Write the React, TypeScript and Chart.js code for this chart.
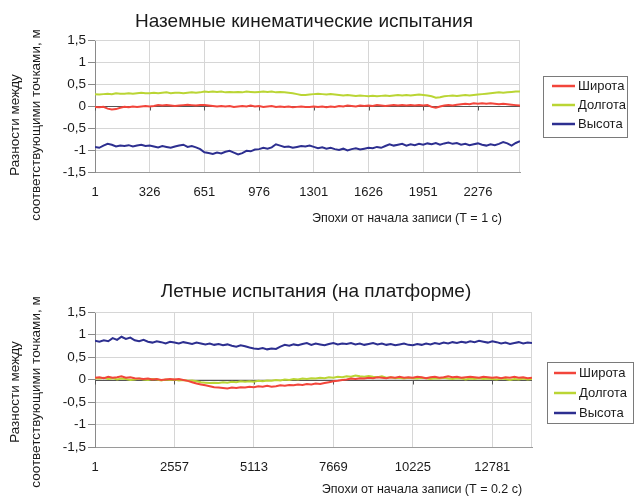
import React, { useEffect, useRef } from "react";
import { Chart, registerables } from "chart.js";

Chart.register(...registerables);

// ---------- data ----------
const SERIES_NAMES = ["Широта", "Долгота", "Высота"];
const SERIES_COLORS = ["#f2453b", "#bad534", "#2d2f90"];

const GROUND_TITLE = "Наземные кинематические испытания";
const FLIGHT_TITLE = "Летные испытания (на платформе)";
const Y_TITLE_LINES = ["Разности между", "соответствующими точками, м"];
const GROUND_X_TITLE = "Эпохи от начала записи (T = 1 с)";
const FLIGHT_X_TITLE = "Эпохи от начала записи (T = 0.2 с)";

const Y_TICKS = [-1.5, -1, -0.5, 0, 0.5, 1, 1.5];
const GROUND_X_TICKS = [1, 326, 651, 976, 1301, 1626, 1951, 2276];
const FLIGHT_X_TICKS = [1, 2557, 5113, 7669, 10225, 12781];

// sampling of the epochs (every GROUND_STEP-th / FLIGHT_STEP-th epoch, starting at 1)
const GROUND_STEP = 25;
const FLIGHT_STEP = 142;

const GROUND_LAT = [
  -0.02, -0.03, -0.02, -0.06, -0.08, -0.07, -0.04, -0.02, -0.03, -0.01, -0.02, -0.01, 0.0,
  -0.01, 0.0, 0.02, 0.01, 0.02, 0.01, 0.0, 0.01, 0.02, 0.03, 0.02, 0.01, 0.02,
  0.02, 0.01, 0.0, -0.01, 0.0, -0.01, 0.0, -0.02, -0.01, 0.0, -0.01, 0.01, -0.01,
  0.0, -0.02, -0.01, 0.0, -0.02, -0.01, -0.02, -0.01, -0.03, -0.02, -0.01, -0.02, -0.02,
  -0.01, -0.02, -0.01, -0.03, -0.01, -0.02, 0.0, -0.01, 0.01, 0.0, -0.01, 0.01, 0.0,
  0.01, 0.0, 0.02, 0.01, 0.0, 0.01, 0.02, 0.01, 0.02, 0.01, 0.02, 0.01, 0.02,
  0.01, 0.02, -0.02, -0.04, -0.01, 0.01, 0.02, 0.01, 0.03, 0.04, 0.05, 0.04, 0.06,
  0.05, 0.06, 0.05, 0.06, 0.05, 0.04, 0.05, 0.04, 0.03, 0.02, 0.01,
];
const GROUND_LON = [
  0.27, 0.26, 0.27, 0.28, 0.27, 0.29, 0.28, 0.28, 0.29, 0.28, 0.29, 0.3, 0.29,
  0.29, 0.3, 0.29, 0.3, 0.31, 0.29, 0.3, 0.3, 0.29, 0.3, 0.31, 0.3, 0.31,
  0.33, 0.32, 0.33, 0.32, 0.33, 0.31, 0.32, 0.31, 0.32, 0.31, 0.33, 0.32, 0.31,
  0.32, 0.33, 0.32, 0.33, 0.31, 0.32, 0.31, 0.3, 0.29, 0.27, 0.25, 0.25, 0.26,
  0.27, 0.28, 0.27, 0.26, 0.27, 0.26, 0.25, 0.24, 0.25, 0.24, 0.23, 0.24, 0.23,
  0.22, 0.23, 0.22, 0.23, 0.24, 0.23, 0.24, 0.25, 0.24, 0.25, 0.24, 0.25, 0.26,
  0.25, 0.24, 0.22, 0.19, 0.2, 0.22, 0.23, 0.24, 0.23, 0.24, 0.25, 0.24, 0.25,
  0.26, 0.27, 0.28, 0.29, 0.3, 0.31, 0.3, 0.31, 0.32, 0.33, 0.33,
];
const GROUND_ALT = [
  -0.93, -0.95, -0.9, -0.86, -0.88, -0.92, -0.9, -0.91, -0.89, -0.92, -0.9, -0.88, -0.91,
  -0.9, -0.92, -0.94, -0.91, -0.93, -0.95, -0.92, -0.9, -0.88, -0.93, -0.91, -0.94, -0.98,
  -1.05, -1.07, -1.09, -1.06, -1.08, -1.04, -1.02, -1.06, -1.1, -1.07, -1.02, -1.03, -0.99,
  -0.98, -0.95, -0.97, -0.94, -0.87, -0.9, -0.93, -0.92, -0.95, -0.93, -0.91, -0.92, -0.9,
  -0.93, -0.96, -0.94, -0.97, -0.95, -0.98, -1.0, -0.97, -1.01, -0.98, -0.96, -0.99, -0.97,
  -0.95, -0.96, -0.93, -0.95, -0.91, -0.87, -0.9, -0.88, -0.86, -0.9, -0.87, -0.89, -0.86,
  -0.88, -0.85, -0.87, -0.84, -0.88, -0.85, -0.83, -0.86, -0.84, -0.88, -0.86, -0.89, -0.87,
  -0.85, -0.88, -0.9, -0.87, -0.89, -0.86, -0.82, -0.85, -0.9, -0.84, -0.8,
];

const FLIGHT_LAT = [
  0.04, 0.05, 0.03, 0.06, 0.04, 0.05, 0.07, 0.04, 0.05, 0.03, 0.02, 0.01, 0.02, 0.0, 0.01, -0.01, 0.0, 0.01,
  0.0, 0.01, -0.01, -0.03, -0.06, -0.09, -0.11, -0.13, -0.15, -0.17, -0.18, -0.19, -0.2, -0.18, -0.19, -0.17, -0.18, -0.16,
  -0.17, -0.15, -0.16, -0.14, -0.16, -0.15, -0.13, -0.14, -0.12, -0.13, -0.11, -0.12, -0.1, -0.11, -0.09, -0.1, -0.08, -0.06,
  -0.04, -0.03, -0.01, 0.0, 0.02, 0.01, 0.03, 0.02, 0.04, 0.03, 0.05, 0.04, 0.03, 0.05, 0.04, 0.06, 0.04, 0.05,
  0.04, 0.06, 0.05, 0.03, 0.05, 0.06, 0.04, 0.05, 0.07, 0.05, 0.06, 0.04, 0.05, 0.06, 0.05, 0.04, 0.06, 0.05,
  0.04, 0.05, 0.03, 0.05, 0.04, 0.06, 0.04, 0.05, 0.03, 0.04,
];
const FLIGHT_LON = [
  0.03, 0.02, 0.04, 0.01, 0.03, 0.0, 0.02, 0.01, -0.01, 0.0, 0.02, 0.0, -0.01, 0.01, 0.0, -0.02, 0.0, -0.01,
  0.0, -0.02, -0.01, -0.03, -0.02, -0.04, -0.06, -0.07, -0.08, -0.07, -0.08, -0.06, -0.07, -0.05, -0.06, -0.04, -0.05, -0.04,
  -0.05, -0.03, -0.04, -0.02, -0.03, -0.01, -0.02, 0.0, -0.01, 0.01, 0.0, 0.02, 0.01, 0.03, 0.02, 0.04, 0.03, 0.05,
  0.04, 0.06, 0.05, 0.07, 0.06, 0.09, 0.07, 0.06, 0.08, 0.06, 0.05, 0.07, 0.04, 0.05, 0.03, 0.04, 0.02, 0.04,
  0.03, 0.02, 0.04, 0.03, 0.01, 0.03, 0.02, 0.04, 0.02, 0.01, 0.03, 0.02, 0.0, 0.02, 0.01, 0.03, 0.01, 0.02,
  0.01, 0.0, 0.02, 0.01, -0.01, 0.01, 0.0, 0.02, 0.0, 0.01,
];
const FLIGHT_ALT = [
  0.86, 0.84, 0.87, 0.85, 0.92, 0.88, 0.95, 0.9, 0.93, 0.87, 0.85, 0.88, 0.84, 0.82, 0.85, 0.83, 0.8, 0.84,
  0.82, 0.8, 0.83, 0.81, 0.79, 0.82, 0.8, 0.78, 0.8, 0.77, 0.79, 0.76, 0.78, 0.75, 0.73, 0.76, 0.74, 0.71,
  0.69, 0.68, 0.7, 0.67, 0.69, 0.68, 0.73, 0.77, 0.75, 0.78, 0.76, 0.79, 0.81, 0.77, 0.8, 0.78, 0.76, 0.79,
  0.81, 0.78, 0.8, 0.79, 0.81, 0.78, 0.8, 0.77, 0.79, 0.81, 0.78, 0.8, 0.77, 0.79, 0.76, 0.78, 0.8, 0.77,
  0.76, 0.79, 0.77, 0.8, 0.78, 0.81, 0.79, 0.82, 0.8, 0.83, 0.81, 0.84, 0.82, 0.85, 0.83, 0.86, 0.84, 0.82,
  0.85, 0.83, 0.8, 0.82, 0.79, 0.81, 0.83, 0.8, 0.82, 0.81,
];

// ---------- layout / style ----------
const W = 634;
const H = 249;
const FONT = "'Liberation Sans', Arial, sans-serif";
const TEXT_COLOR = "#1a1a1a";
const GRID_COLOR = "#d6d6d6";
const AXIS_COLOR = "#8a8a8a";

type Layout = {
  left: number;
  right: number;
  top: number;
  bottom: number;
  titleX: number;
  titleY: number;
  yTitleY: number;
  yTitleX: [number, number];
  xTitleX: number;
  xTitleY: number;
  legend: { x: number; y: number; w: number; h: number; rowY: number[]; lineX: [number, number]; textX: number };
};

const GROUND_LAYOUT: Layout = {
  left: 95, right: 520, top: 40, bottom: 172,
  titleX: 304, titleY: 22,
  yTitleY: 125, yTitleX: [15, 36],
  xTitleX: 407, xTitleY: 219,
  legend: { x: 543, y: 76, w: 84, h: 61, rowY: [86, 105, 124], lineX: [552, 575], textX: 578 },
};
const FLIGHT_LAYOUT: Layout = {
  left: 95, right: 532, top: 63, bottom: 198,
  titleX: 316, titleY: 43,
  yTitleY: 143, yTitleX: [15, 36],
  xTitleX: 422, xTitleY: 241,
  legend: { x: 547, y: 113, w: 86, h: 61, rowY: [124, 144, 164], lineX: [554, 576], textX: 579 },
};

function makeChart(
  canvas: HTMLCanvasElement,
  series: number[][],
  step: number,
  xTicks: number[],
  layout: Layout,
  title: string,
  xTitle: string
) {
  const n = series[0].length;
  const xMax = 1 + (n - 1) * step;
  const datasets = series.map((vals, si) => ({
    label: SERIES_NAMES[si],
    data: vals.map((v, i) => ({ x: 1 + i * step, y: v })),
    borderColor: SERIES_COLORS[si],
    backgroundColor: SERIES_COLORS[si],
    borderWidth: 2,
    pointRadius: 0,
    tension: 0,
    fill: false,
  }));

  const decor = {
    id: "decor",
    beforeDatasetsDraw(chart: any) {
      const ctx = chart.ctx;
      const a = chart.chartArea;
      const xs = chart.scales.x;
      const ys = chart.scales.y;
      ctx.save();
      // top and right frame
      ctx.strokeStyle = GRID_COLOR;
      ctx.lineWidth = 1;
      ctx.beginPath();
      ctx.moveTo(a.left, a.top + 0.5);
      ctx.lineTo(a.right, a.top + 0.5);
      ctx.moveTo(a.right - 0.5, a.top);
      ctx.lineTo(a.right - 0.5, a.bottom);
      ctx.stroke();
      // zero (category) axis with tick marks
      const y0 = Math.round(ys.getPixelForValue(0)) + 0.5;
      ctx.strokeStyle = "#555555";
      ctx.beginPath();
      ctx.moveTo(a.left, y0);
      ctx.lineTo(a.right, y0);
      for (const t of xTicks) {
        const px = Math.round(xs.getPixelForValue(t)) + 0.5;
        ctx.moveTo(px, y0);
        ctx.lineTo(px, y0 + 4);
      }
      ctx.stroke();
      ctx.restore();
    },
    afterDraw(chart: any) {
      const ctx = chart.ctx;
      ctx.save();
      ctx.fillStyle = TEXT_COLOR;
      // title
      ctx.font = `19px ${FONT}`;
      ctx.textAlign = "center";
      ctx.textBaseline = "middle";
      ctx.fillText(title, layout.titleX, layout.titleY);
      // x title
      ctx.font = `12.5px ${FONT}`;
      ctx.fillText(xTitle, layout.xTitleX, layout.xTitleY);
      // y title (rotated)
      ctx.font = `13.5px ${FONT}`;
      Y_TITLE_LINES.forEach((line, i) => {
        ctx.save();
        ctx.translate(layout.yTitleX[i], layout.yTitleY);
        ctx.rotate(-Math.PI / 2);
        ctx.fillText(line, 0, 0);
        ctx.restore();
      });
      // legend
      const L = layout.legend;
      ctx.strokeStyle = "#7a7a7a";
      ctx.lineWidth = 1;
      ctx.strokeRect(L.x + 0.5, L.y + 0.5, L.w, L.h);
      ctx.textAlign = "left";
      ctx.font = `13px ${FONT}`;
      SERIES_NAMES.forEach((name, i) => {
        ctx.strokeStyle = SERIES_COLORS[i];
        ctx.lineWidth = 2.5;
        ctx.beginPath();
        ctx.moveTo(L.lineX[0], L.rowY[i]);
        ctx.lineTo(L.lineX[1], L.rowY[i]);
        ctx.stroke();
        ctx.fillStyle = TEXT_COLOR;
        ctx.fillText(name, L.textX, L.rowY[i] + 0.5);
      });
      ctx.restore();
    },
  };

  return new Chart(canvas, {
    type: "line",
    data: { datasets },
    plugins: [decor],
    options: {
      responsive: false,
      animation: false,
      events: [],
      layout: {
        padding: { left: 0, top: layout.top, right: W - layout.right, bottom: 0 },
      },
      plugins: { legend: { display: false }, title: { display: false }, tooltip: { enabled: false } },
      scales: {
        x: {
          type: "linear",
          min: 1,
          max: xMax,
          afterBuildTicks: (s: any) => {
            s.ticks = xTicks.map((v) => ({ value: v }));
          },
          afterFit: (s: any) => {
            s.height = H - layout.bottom;
          },
          ticks: {
            autoSkip: false,
            maxRotation: 0,
            padding: 13,
            color: TEXT_COLOR,
            font: { family: FONT, size: 13 },
            callback: (v: any) => String(v),
          },
          grid: { color: GRID_COLOR, drawTicks: false },
          border: { color: "#9a9a9a" },
        },
        y: {
          type: "linear",
          min: -1.5,
          max: 1.5,
          afterBuildTicks: (s: any) => {
            s.ticks = Y_TICKS.map((v) => ({ value: v }));
          },
          afterFit: (s: any) => {
            s.width = layout.left;
          },
          ticks: {
            padding: 2,
            color: TEXT_COLOR,
            font: { family: FONT, size: 13.5 },
            callback: (v: any) => String(v).replace(".", ","),
          },
          grid: { color: GRID_COLOR, tickLength: 7, tickColor: AXIS_COLOR },
          border: { color: AXIS_COLOR },
        },
      },
    },
  } as any);
}

export default function App() {
  const ref1 = useRef<HTMLCanvasElement>(null);
  const ref2 = useRef<HTMLCanvasElement>(null);

  useEffect(() => {
    document.body.style.margin = "0";
    document.body.style.background = "#ffffff";
    const c1 = makeChart(
      ref1.current!,
      [GROUND_LAT, GROUND_LON, GROUND_ALT],
      GROUND_STEP,
      GROUND_X_TICKS,
      GROUND_LAYOUT,
      GROUND_TITLE,
      GROUND_X_TITLE
    );
    const c2 = makeChart(
      ref2.current!,
      [FLIGHT_LAT, FLIGHT_LON, FLIGHT_ALT],
      FLIGHT_STEP,
      FLIGHT_X_TICKS,
      FLIGHT_LAYOUT,
      FLIGHT_TITLE,
      FLIGHT_X_TITLE
    );
    return () => {
      c1.destroy();
      c2.destroy();
    };
  }, []);

  return (
    <div style={{ width: W, height: 2 * H, background: "#fff" }}>
      <canvas ref={ref1} width={W} height={H} style={{ display: "block" }} />
      <canvas ref={ref2} width={W} height={H} style={{ display: "block" }} />
    </div>
  );
}
